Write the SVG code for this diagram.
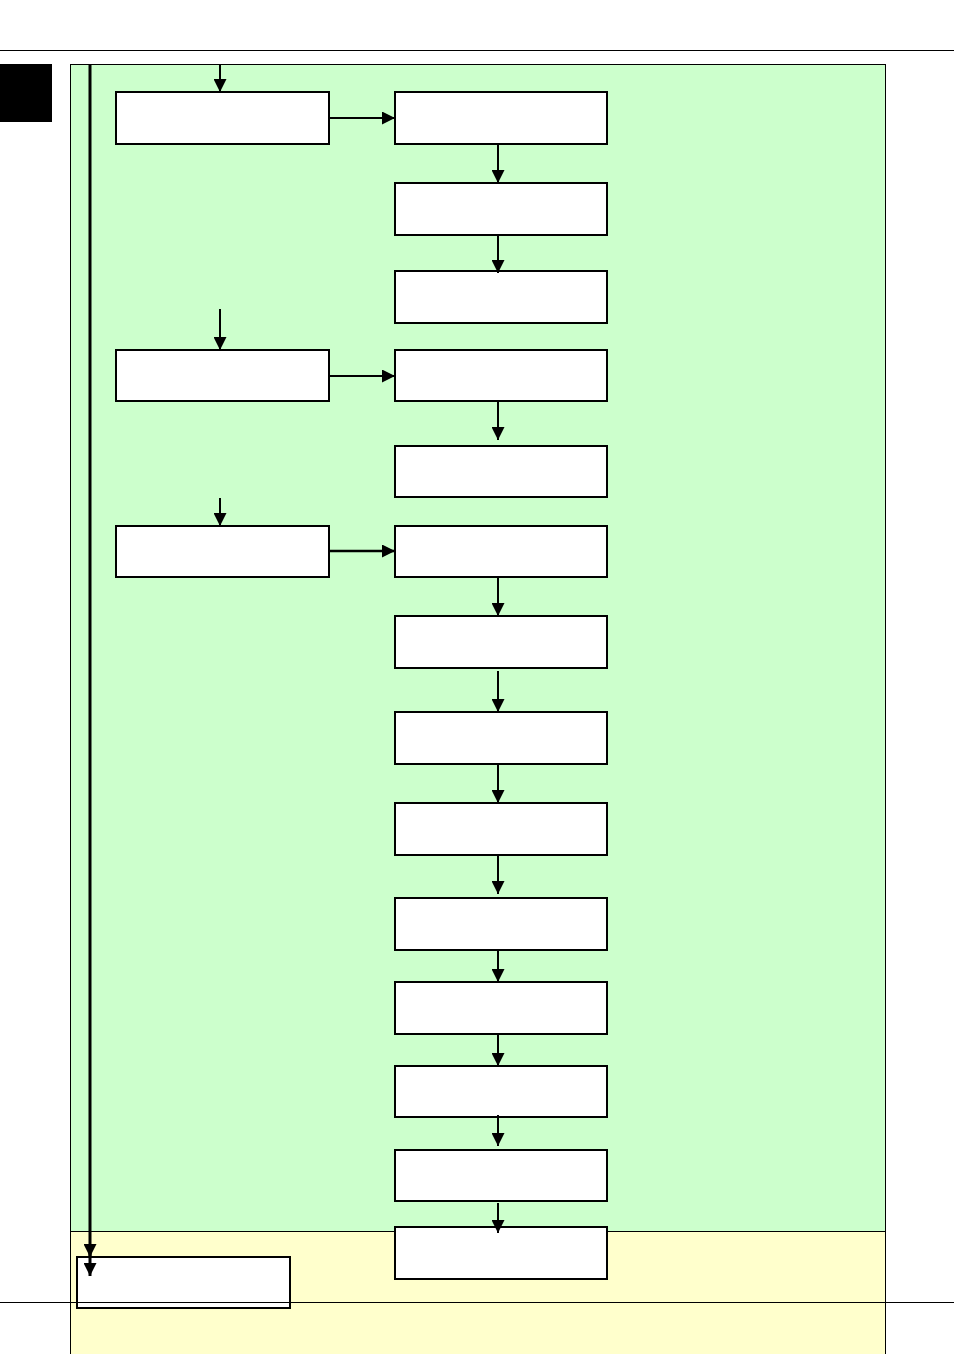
<svg xmlns="http://www.w3.org/2000/svg" width="954" height="1354" viewBox="0 0 954 1354">
<style>
.b{fill:#fff;stroke:#000;stroke-width:2}
.c{stroke:#000;stroke-width:2;fill:none;marker-end:url(#a)}
.t{stroke:#000;stroke-width:3;fill:none;marker-end:url(#a)}
</style>
<defs><marker id="a" viewBox="0 0 10 10" refX="10" refY="5" markerWidth="13" markerHeight="13" markerUnits="userSpaceOnUse" orient="auto"><path d="M0,0L10,5L0,10z"/></marker></defs>
<rect width="954" height="1354" fill="#fff"/>
<rect x="70" y="64" width="816" height="1167" fill="#ccffcc"/>
<rect x="70" y="1231" width="816" height="123" fill="#ffffcc"/>
<g stroke="#000" stroke-width="1">
<line x1="0" y1="50.5" x2="954" y2="50.5"/>
<line x1="70.5" y1="64" x2="70.5" y2="1354"/>
<line x1="885.5" y1="64" x2="885.5" y2="1354"/>
<line x1="70" y1="64.5" x2="886" y2="64.5"/>
<line x1="70" y1="1231.5" x2="886" y2="1231.5"/>
</g>
<rect x="0" y="64" width="52" height="58" fill="#000"/>
<g id="nodes">
<rect id="l1" class="b" x="116" y="92" width="213" height="52"/>
<rect id="l2" class="b" x="116" y="350" width="213" height="51"/>
<rect id="l3" class="b" x="116" y="526" width="213" height="51"/>
<rect id="r1" class="b" x="395" y="92" width="212" height="52"/>
<rect id="r2" class="b" x="395" y="183" width="212" height="52"/>
<rect id="r3" class="b" x="395" y="271" width="212" height="52"/>
<rect id="r4" class="b" x="395" y="350" width="212" height="51"/>
<rect id="r5" class="b" x="395" y="446" width="212" height="51"/>
<rect id="r6" class="b" x="395" y="526" width="212" height="51"/>
<rect id="r7" class="b" x="395" y="616" width="212" height="52"/>
<rect id="r8" class="b" x="395" y="712" width="212" height="52"/>
<rect id="r9" class="b" x="395" y="803" width="212" height="52"/>
<rect id="r10" class="b" x="395" y="898" width="212" height="52"/>
<rect id="r11" class="b" x="395" y="982" width="212" height="52"/>
<rect id="r12" class="b" x="395" y="1066" width="212" height="51"/>
<rect id="r13" class="b" x="395" y="1150" width="212" height="51"/>
<rect id="r14" class="b" x="395" y="1227" width="212" height="52"/>
<rect id="bl" class="b" x="77" y="1257" width="213" height="51"/>
</g>
<line x1="0" y1="1302.5" x2="954" y2="1302.5" stroke="#000" stroke-width="1"/>
<g id="connectors">
<line x1="90" y1="64" x2="90" y2="1257" class="t"/>
<line x1="90" y1="1250" x2="90" y2="1276" class="t"/>
<line class="c" x1="220" y1="64" x2="220" y2="92"/>
<line class="c" x1="220" y1="309" x2="220" y2="350"/>
<line class="c" x1="220" y1="498" x2="220" y2="526"/>
<line class="c" x1="329" y1="118" x2="395" y2="118"/>
<line class="c" x1="329" y1="376" x2="395" y2="376"/>
<line class="c" x1="329" y1="551" x2="395" y2="551" style="stroke-width:2.5"/>
<line class="c" x1="498" y1="144" x2="498" y2="183"/>
<line class="c" x1="498" y1="235" x2="498" y2="273"/>
<line class="c" x1="498" y1="401" x2="498" y2="440"/>
<line class="c" x1="498" y1="577" x2="498" y2="616"/>
<line class="c" x1="498" y1="671" x2="498" y2="712"/>
<line class="c" x1="498" y1="764" x2="498" y2="803"/>
<line class="c" x1="498" y1="855" x2="498" y2="894"/>
<line class="c" x1="498" y1="950" x2="498" y2="982"/>
<line class="c" x1="498" y1="1034" x2="498" y2="1066"/>
<line class="c" x1="498" y1="1115" x2="498" y2="1146"/>
<line class="c" x1="498" y1="1203" x2="498" y2="1233"/>
</g>
</svg>
